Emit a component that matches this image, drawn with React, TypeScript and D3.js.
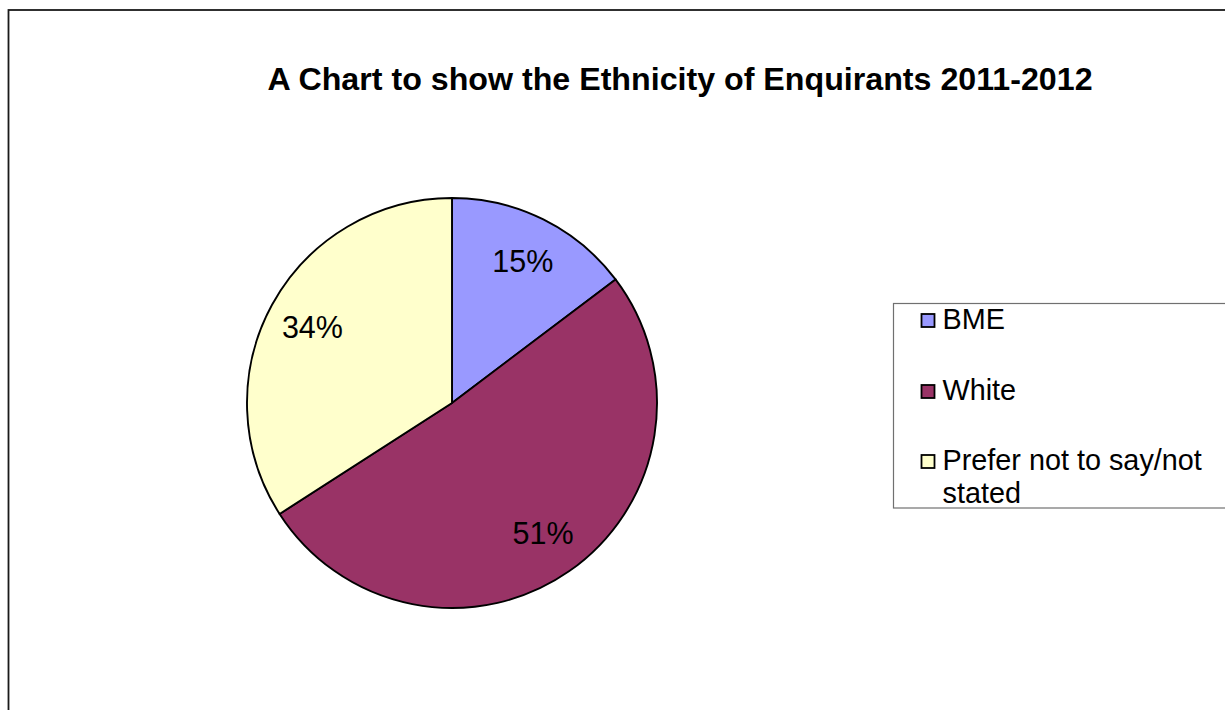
import React from "react";
import * as d3 from "d3";

const categories = ["BME", "White", "Prefer not to say/not stated"];
const values = [14.7, 51.2, 34.1];
const colors = ["#9999FF", "#993366", "#FFFFCC"];
const legendLines = [["BME"], ["White"], ["Prefer not to say/not", "stated"]];
const title = "A Chart to show the Ethnicity of Enquirants 2011-2012";

const W = 1225;
const H = 710;
const FONT = "'Liberation Sans', Arial, Helvetica, sans-serif";

export default function App() {
  const cx = 452;
  const cy = 403;
  const R = 205;
  const total = d3.sum(values);
  const pie = d3.pie<number>().sort(null).value((d) => d).startAngle(0).endAngle(2 * Math.PI);
  const arcs = pie(values);
  const arc = d3.arc<d3.PieArcDatum<number>>().innerRadius(0).outerRadius(R);
  const labelArc = d3.arc<d3.PieArcDatum<number>>().innerRadius(159).outerRadius(159);

  const legendBaselines = [329, 400, 470];
  const lineGap = 33;

  return (
    <svg
      width={W}
      height={H}
      style={{ position: "absolute", left: 0, top: 0, background: "#fff" }}
    >
      <rect x={0} y={0} width={W} height={H} fill="#fff" />
      <rect x={8.5} y={10} width={W + 20} height={H + 20} fill="none" stroke="#1a1a1a" strokeWidth={1.8} />
      <text
        x={680}
        y={90}
        textAnchor="middle"
        fontFamily={FONT}
        fontWeight="bold"
        fontSize={32.2}
        fill="#000"
      >
        {title}
      </text>
      <g transform={`translate(${cx},${cy})`}>
        {arcs.map((a, i) => (
          <path key={i} d={arc(a) || ""} fill={colors[i]} stroke="#000" strokeWidth={1.9} strokeLinejoin="round" />
        ))}
        {arcs.map((a, i) => {
          const [lx, ly] = labelArc.centroid(a);
          return (
            <text
              key={"l" + i}
              x={lx}
              y={ly}
              dy="0.36em"
              textAnchor="middle"
              fontFamily={FONT}
              fontSize={30.5}
              fill="#000"
            >
              {Math.round((values[i] / total) * 100)}%
            </text>
          );
        })}
      </g>
      <rect x={893.5} y={303.5} width={400} height={204.5} fill="#fff" stroke="#707070" strokeWidth={1.2} />
      {categories.map((c, i) => (
        <g key={c}>
          <rect
            x={921.5}
            y={legendBaselines[i] - 15}
            width={13}
            height={13}
            fill={colors[i]}
            stroke="#000"
            strokeWidth={1.8}
          />
          {legendLines[i].map((ln, j) => (
            <text
              key={j}
              x={942.5}
              y={legendBaselines[i] + j * lineGap}
              fontFamily={FONT}
              fontSize={28.8}
              fill="#000"
            >
              {ln}
            </text>
          ))}
        </g>
      ))}
    </svg>
  );
}
